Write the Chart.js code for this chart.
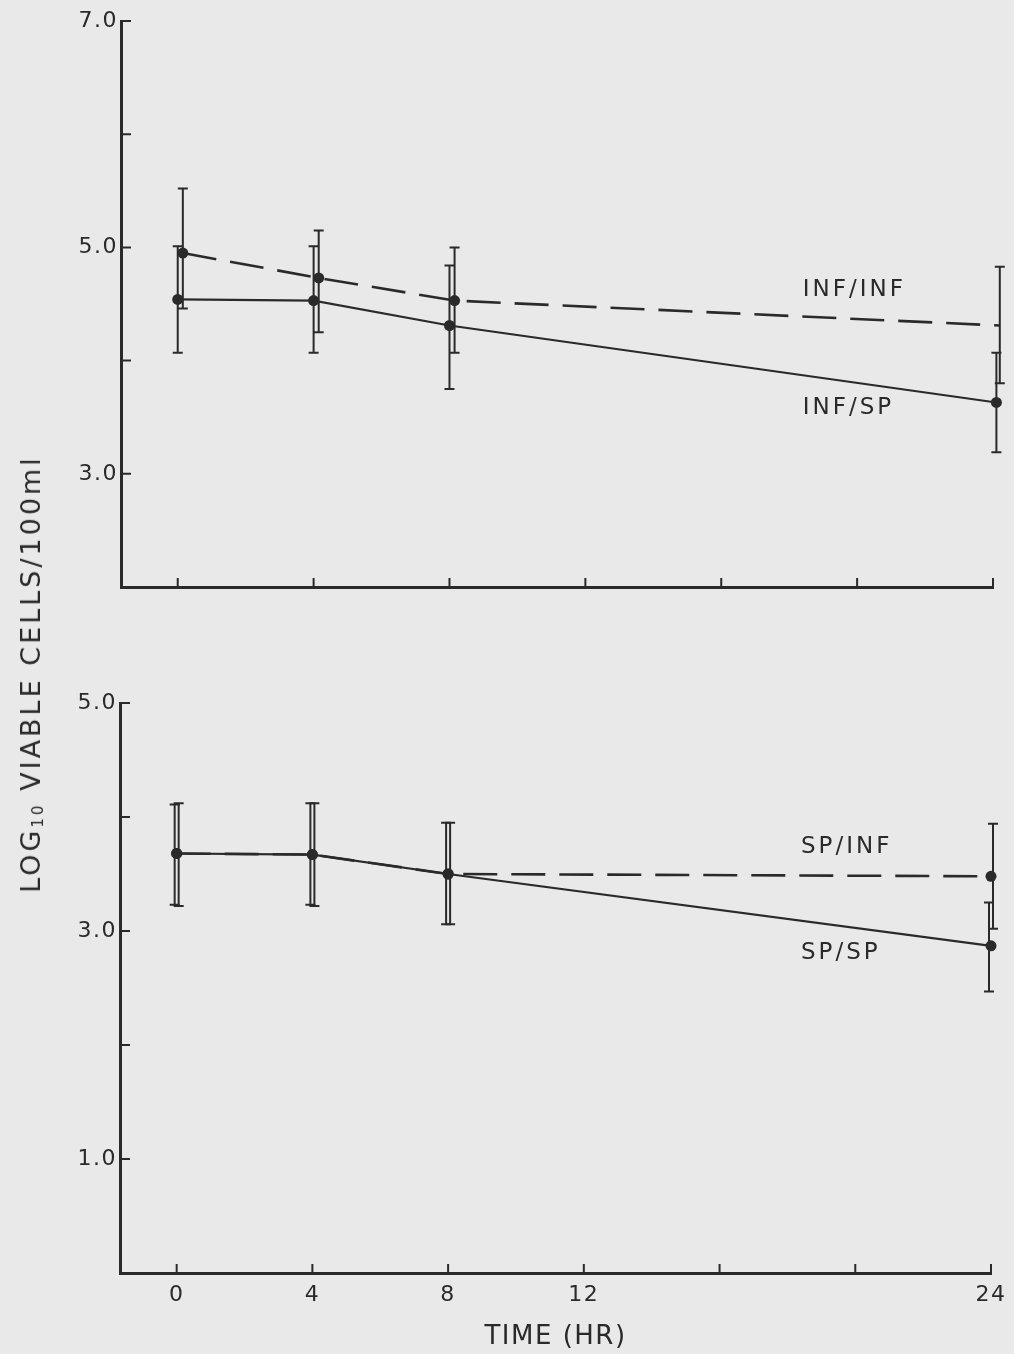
<!DOCTYPE html>
<html lang="en">
<head>
<meta charset="UTF-8">
<title>Log10 viable cells over time</title>
<script src="https://cdn.jsdelivr.net/npm/chart.js"></script>
<style>
  body { margin: 0; background: #e9e9e9; }
  #page { position: relative; width: 1014px; height: 1354px; overflow: hidden; background: #e9e9e9; }
  #topChart { position: absolute; left: 0; top: 0; }
  #bottomChart { position: absolute; left: 0; top: 640px; }
  #ytitle {
    position: absolute; left: 31px; top: 674px;
    transform: translate(-50%, -50%) rotate(-90deg);
    font: 27px "DejaVu Sans", sans-serif; letter-spacing: 3px;
    color: #2a2a2a; white-space: nowrap;
  }
  #ytitle sub { font-size: 15px; vertical-align: -3px; }
</style>
</head>
<body>
<div id="page">
  <canvas id="topChart" width="1014" height="630"></canvas>
  <canvas id="bottomChart" width="1014" height="714"></canvas>
  <div id="ytitle">LOG<sub>10</sub> VIABLE CELLS/100ml</div>
</div>

<script>
const INK = '#2a2a2a';

// time points (hr); top panel points sit a little apart from each other
const hours = [0, 4, 8, 24];
const infInfHours = [0.15, 4.15, 8.15, 24.2];
const infSpHours = [0, 4, 8, 24.1];

// top panel: INF/INF (dashed) and INF/SP (solid)
const infInf   = [4.95, 4.73, 4.53, 4.31];
const infInfHi = [5.52, 5.15, 5.00, 4.83];
const infInfLo = [4.46, 4.25, 4.07, 3.80];
const infSp    = [4.54, 4.53, 4.31, 3.63];
const infSpHi  = [5.01, 5.01, 4.84, 4.07];
const infSpLo  = [4.07, 4.07, 3.75, 3.19];

// bottom panel: SP/INF (dashed) and SP/SP (solid)
const spInf   = [3.68, 3.67, 3.50, 3.48];
const spInfHi = [4.12, 4.12, 3.95, 3.94];
const spInfLo = [3.22, 3.22, 3.06, 3.02];
const spSp    = [3.68, 3.67, 3.50, 2.87];
const spSpHi  = [4.11, 4.12, 3.95, 3.25];
const spSpLo  = [3.23, 3.23, 3.06, 2.47];

// axes
const xTicks = [0, 4, 8, 12, 16, 20, 24];
const xLabels = [0, 4, 8, 12, 24];
const topYTicks = [2, 3, 4, 5, 6, 7];
const topYLabels = [3, 5, 7];
const bottomYTicks = [0, 1, 2, 3, 4, 5];
const bottomYLabels = [1, 3, 5];

Chart.defaults.font.family = '"DejaVu Sans", sans-serif';
Chart.defaults.color = INK;

function pts(xs, ys) {
  return xs.map((x, i) => ({ x: x, y: ys[i] }));
}

// vertical error bars with small caps
const errorBars = {
  id: 'errorBars',
  afterDatasetsDraw(chart) {
    const ctx = chart.ctx, xs = chart.scales.x, ys = chart.scales.y;
    ctx.save();
    ctx.strokeStyle = INK;
    ctx.lineWidth = 2;
    chart.data.datasets.forEach(ds => {
      ds.data.forEach((p, i) => {
        const px = xs.getPixelForValue(p.x) + (ds.barShift || 0);
        const yh = ys.getPixelForValue(ds.hi[i]);
        const yl = ys.getPixelForValue(ds.lo[i]);
        ctx.beginPath();
        ctx.moveTo(px, yh); ctx.lineTo(px, yl);
        ctx.moveTo(px - 5, yh); ctx.lineTo(px + 5, yh);
        ctx.moveTo(px - 5, yl); ctx.lineTo(px + 5, yl);
        ctx.stroke();
      });
    });
    ctx.restore();
  }
};

// tick marks pointing into the plot
const innerTicks = {
  id: 'innerTicks',
  afterDraw(chart) {
    const { ctx, chartArea: a, scales: { x, y } } = chart;
    ctx.save();
    ctx.strokeStyle = INK;
    ctx.lineWidth = 2;
    ctx.beginPath();
    x.ticks.forEach(t => {
      const px = x.getPixelForValue(t.value);
      ctx.moveTo(px, a.bottom); ctx.lineTo(px, a.bottom - 9);
    });
    y.ticks.forEach(t => {
      const py = y.getPixelForValue(t.value);
      ctx.moveTo(a.left, py); ctx.lineTo(a.left + 10, py);
    });
    ctx.stroke();
    ctx.restore();
  }
};

// curve names written next to the lines
const curveLabels = {
  id: 'curveLabels',
  beforeDraw(chart) {
    chart.ctx.letterSpacing = '1.5px';
  },
  afterDraw(chart, args, opts) {
    const ctx = chart.ctx, xs = chart.scales.x, ys = chart.scales.y;
    ctx.save();
    ctx.font = '23px "DejaVu Sans", sans-serif';
    ctx.letterSpacing = '3px';
    ctx.fillStyle = INK;
    ctx.textAlign = 'left';
    ctx.textBaseline = 'middle';
    opts.items.forEach(it => {
      ctx.fillText(it.text, xs.getPixelForValue(it.at[0]), ys.getPixelForValue(it.at[1]));
    });
    ctx.restore();
  }
};

function makeOptions(cfg) {
  return {
    responsive: false,
    animation: false,
    layout: { padding: { left: 0, right: cfg.right, top: cfg.top, bottom: 0 } },
    plugins: {
      legend: { display: false },
      tooltip: { enabled: false },
      curveLabels: { items: cfg.labels }
    },
    scales: {
      x: {
        type: 'linear',
        min: -1.67,
        max: 24,
        afterBuildTicks: s => { s.ticks = xTicks.map(v => ({ value: v })); },
        afterFit: s => { s.height = cfg.xHeight; },
        grid: { display: true, drawOnChartArea: false, drawTicks: false },
        border: { display: true, color: INK, width: 3 },
        ticks: {
          display: cfg.xLabels,
          padding: 9,
          font: { size: 22 },
          color: INK,
          callback: v => (xLabels.includes(v) ? String(v) : '')
        },
        title: {
          display: cfg.xLabels,
          text: 'TIME (HR)',
          font: { size: 26 },
          color: INK,
          padding: { top: 0, bottom: 1 }
        }
      },
      y: {
        type: 'linear',
        min: cfg.yTicks[0],
        max: cfg.yTicks[cfg.yTicks.length - 1],
        afterBuildTicks: s => { s.ticks = cfg.yTicks.map(v => ({ value: v })); },
        afterFit: s => { s.width = cfg.yWidth; },
        grid: { display: true, drawOnChartArea: false, drawTicks: false },
        border: { display: true, color: INK, width: 3 },
        ticks: {
          padding: 3,
          font: { size: 22 },
          color: INK,
          callback: v => (cfg.yLabels.includes(v) ? v.toFixed(1) : '')
        }
      }
    }
  };
}

function lineSet(data, dashed, hi, lo, shift) {
  return {
    data: data,
    hi: hi,
    lo: lo,
    barShift: shift,
    borderColor: INK,
    borderWidth: dashed ? 2.6 : 2.2,
    borderDash: dashed ? [34, 14] : [],
    pointRadius: 5.5,
    pointBackgroundColor: INK,
    pointBorderWidth: 0,
    tension: 0,
    clip: false
  };
}

new Chart(document.getElementById('topChart'), {
  type: 'line',
  data: {
    datasets: [
      lineSet(pts(infInfHours, infInf), true, infInfHi, infInfLo, 0),
      lineSet(pts(infSpHours, infSp), false, infSpHi, infSpLo, 0)
    ]
  },
  options: makeOptions({
    top: 21, right: 21, yWidth: 121, xHeight: 43, xLabels: false,
    yTicks: topYTicks, yLabels: topYLabels,
    labels: [
      { text: 'INF/INF', at: [18.4, 4.62] },
      { text: 'INF/SP', at: [18.4, 3.58] }
    ]
  }),
  plugins: [errorBars, innerTicks, curveLabels]
});

new Chart(document.getElementById('bottomChart'), {
  type: 'line',
  data: {
    datasets: [
      lineSet(pts(hours, spInf), true, spInfHi, spInfLo, 2),
      lineSet(pts(hours, spSp), false, spSpHi, spSpLo, -2)
    ]
  },
  options: makeOptions({
    top: 63, right: 20, yWidth: 120, xHeight: 81, xLabels: true,
    yTicks: bottomYTicks, yLabels: bottomYLabels,
    labels: [
      { text: 'SP/INF', at: [18.4, 3.74] },
      { text: 'SP/SP', at: [18.4, 2.81] }
    ]
  }),
  plugins: [errorBars, innerTicks, curveLabels]
});
</script>
</body>
</html>
